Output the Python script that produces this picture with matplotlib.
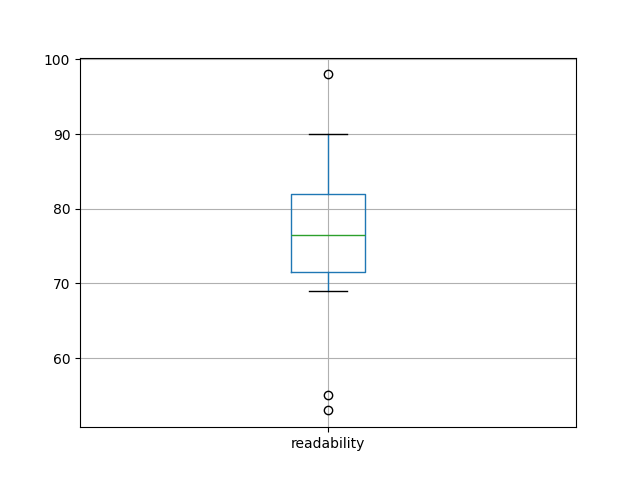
import matplotlib
matplotlib.use("Agg")
import matplotlib.pyplot as plt
import pandas as pd

readability = [77, 53, 83, 71, 90, 75, 98, 69, 79, 55, 73, 85, 76, 78]

df = pd.DataFrame({"readability": readability})
fig, ax = plt.subplots(figsize=(6.4, 4.8), dpi=100)
df.boxplot(column=["readability"], ax=ax)
fig.savefig("out.png", dpi=100)
